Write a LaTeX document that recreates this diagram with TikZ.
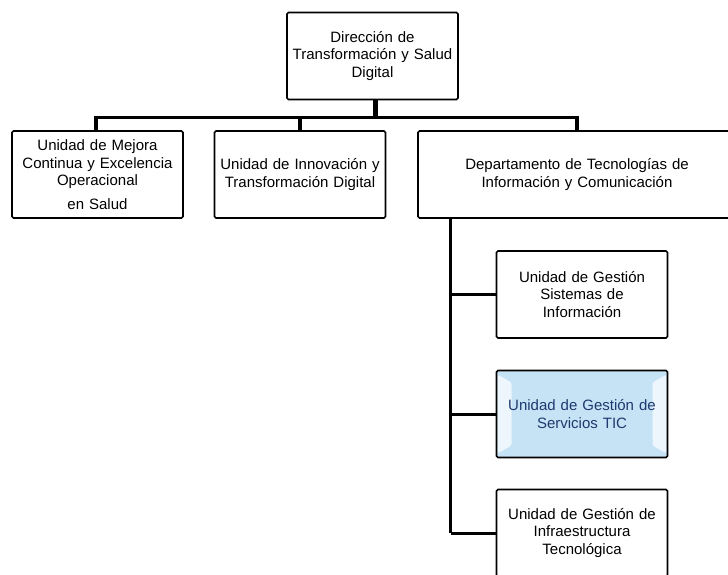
\documentclass[tikz,border=0pt]{standalone}
\usepackage{fontspec}
\setmainfont{Liberation Sans}
\definecolor{boxblue}{RGB}{198,227,245}
\definecolor{bevel}{RGB}{236,246,252}
\definecolor{navy}{RGB}{31,56,110}
\begin{document}
\begin{tikzpicture}[x=1pt,y=-1pt,
  orgbox/.style={draw=black, line width=1.7pt, rounded corners=1.5pt, fill=white,
    minimum width=171pt, minimum height=87pt, inner sep=0pt,
    text width=168pt, align=center, font=\fontsize{15}{17.5}\selectfont},
  bevelbox/.style={fill=boxblue, text=navy,
    path picture={
      \fill[bevel] ([xshift=1pt,yshift=-4pt]path picture bounding box.north west)
        -- ([xshift=15pt,yshift=-12pt]path picture bounding box.north west)
        -- ([xshift=15pt,yshift=12pt]path picture bounding box.south west)
        -- ([xshift=1pt,yshift=4pt]path picture bounding box.south west) -- cycle;
      \fill[bevel] ([xshift=-1pt,yshift=-4pt]path picture bounding box.north east)
        -- ([xshift=-15pt,yshift=-12pt]path picture bounding box.north east)
        -- ([xshift=-15pt,yshift=12pt]path picture bounding box.south east)
        -- ([xshift=-1pt,yshift=4pt]path picture bounding box.south east) -- cycle;
    }},
  stemline/.style={line width=5pt},
  busline/.style={line width=3.5pt},
  branchline/.style={line width=3pt}]
\useasboundingbox (0,0) rectangle (728,574);
\fill[white] (0,0) rectangle (728,574);
\begin{scope}
\clip (0,0) rectangle (728,574);
% nodes
\node[orgbox] (top) at (372.5,56) {Dirección de\\Transformación y Salud\\Digital};
\node[orgbox] (L) at (97.5,174.5) {Unidad de Mejora\\Continua y Excelencia\\Operacional\\[6pt]en Salud};
\node[orgbox] (M) at (300,174.5) {Unidad de Innovación y\\Transformación Digital};
\node[orgbox, minimum width=318pt, text width=300pt] (R) at (577,174.5) {Departamento de Tecnologías de\\Información y Comunicación};
\node[orgbox] (S1) at (582,294.5) {Unidad de Gestión\\Sistemas de\\Información};
\node[orgbox, bevelbox] (S2) at (582,414) {Unidad de Gestión de\\Servicios TIC};
\node[orgbox] (S3) at (582,533) {Unidad de Gestión de\\Infraestructura\\Tecnológica};
% connectors
\coordinate (j) at (375,117.5);
\coordinate (v) at (450.7,218);
\draw[stemline] (top.south -| j) -- (j);
\draw[busline, line cap=rect] (L.north -| 96,0) |- (j) -| (R.north);
\draw[busline] (j -| M.north) -- (M.north);
\draw[busline] (v) -- (v |- S3.west);
\draw[branchline] (v |- S1.west) -- (S1.west);
\draw[branchline] (v |- S2.west) -- (S2.west);
\draw[branchline] (v |- S3.west) -- (S3.west);
\end{scope}
\end{tikzpicture}
\end{document}
